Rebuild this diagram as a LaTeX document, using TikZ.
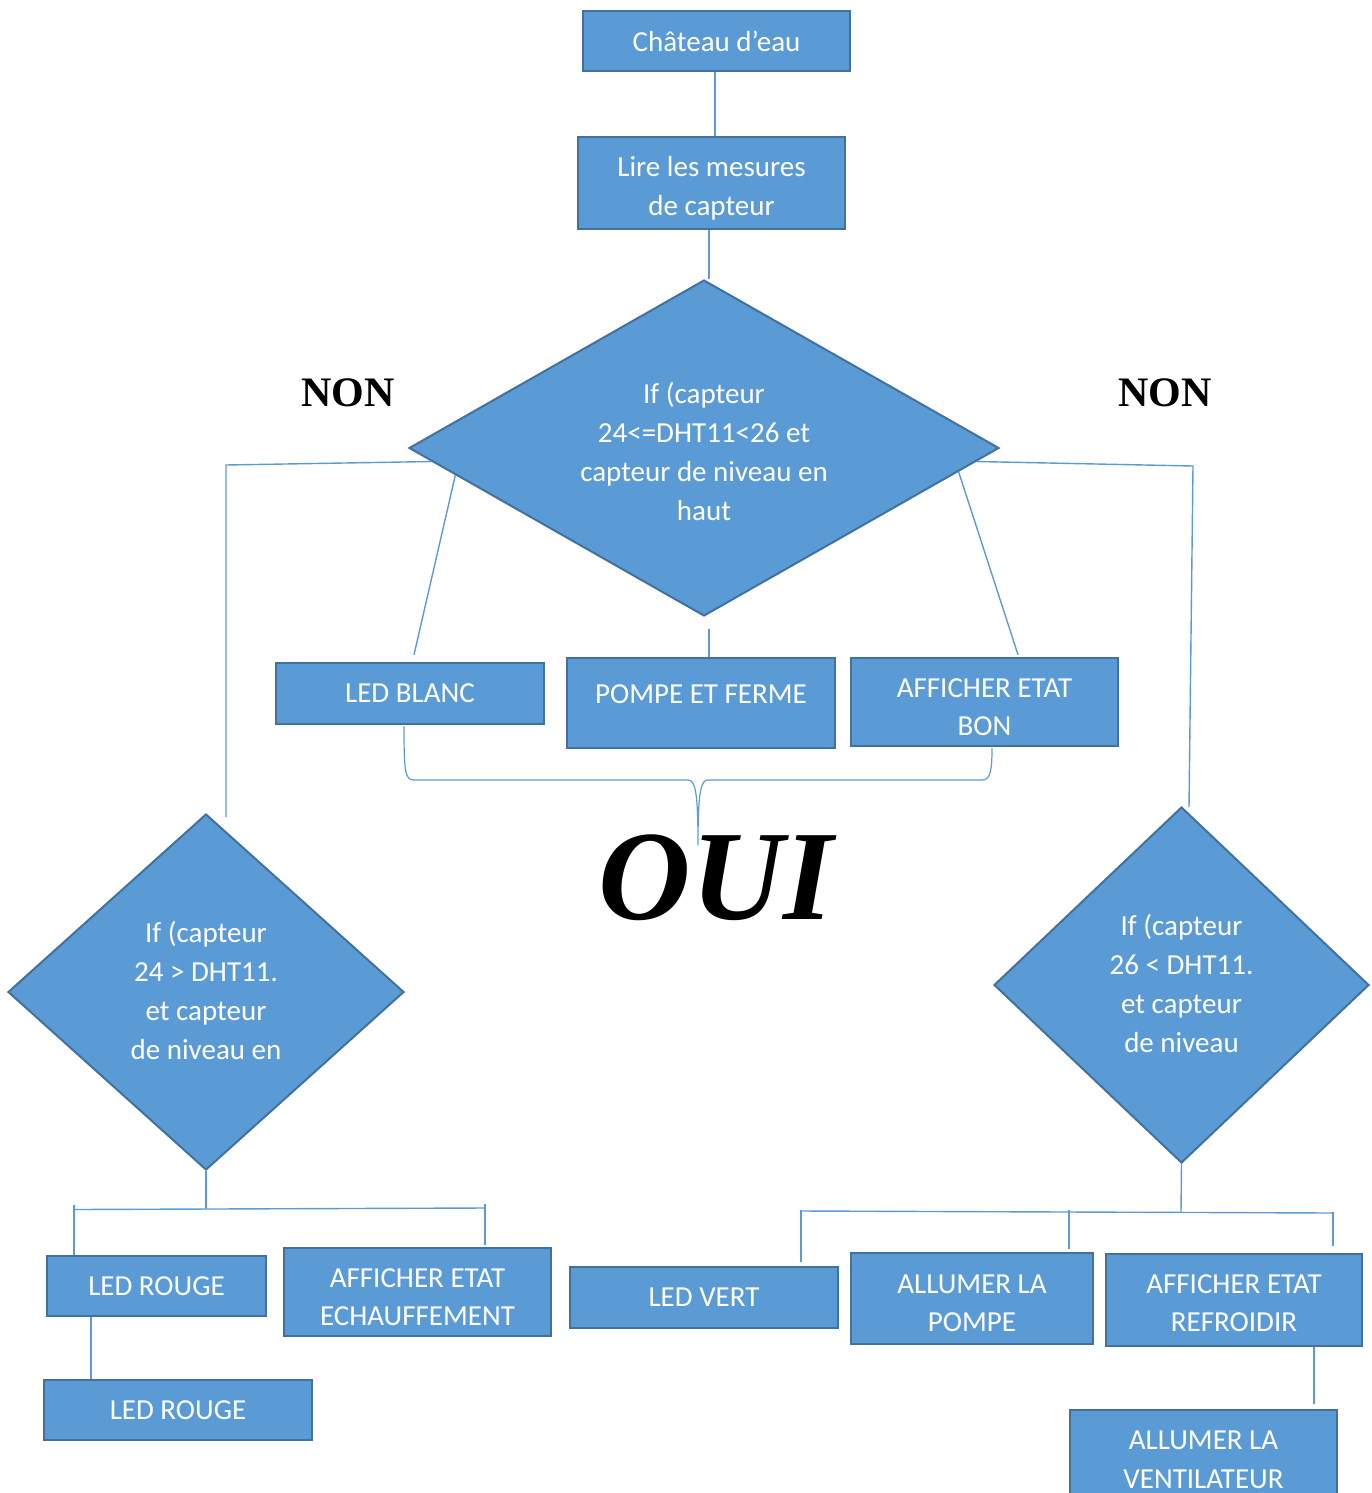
\documentclass[tikz,border=0pt]{standalone}
\usepackage{fontspec}
\setmainfont{Carlito}
\newfontfamily\timesfont{Liberation Serif}
\usetikzlibrary{shapes.geometric,calc}
\definecolor{boxfill}{HTML}{5B9BD5}
\definecolor{boxedge}{HTML}{41719C}
\definecolor{wirecol}{HTML}{5B9BD5}
% stacked centred lines, shifted inside their shape without changing its size
\newcommand\stackedtext[2][-5pt]{\raisebox{#1}[\height][\depth]{\begin{tabular}{@{}c@{}}#2\end{tabular}}}

\begin{document}
\begin{tikzpicture}[x=1pt,y=-1pt,
  stepbox/.style={rectangle, draw=boxedge, line width=2.5pt, fill=boxfill,
    text=white, font=\fontsize{29}{38.5}\selectfont, align=center, inner sep=0pt},
  decision/.style={diamond, draw=boxedge, line width=2pt, fill=boxfill,
    text=white, font=\fontsize{29}{39}\selectfont, align=center, inner sep=0pt},
  wire/.style={draw=wirecol, line width=1.4pt},
  verdict/.style={font=\timesfont\bfseries\fontsize{42}{50}\selectfont},
  bigverdict/.style={font=\timesfont\bfseries\itshape\fontsize{128}{140}\selectfont}]

\useasboundingbox (0,0) rectangle (1371,1493);

% ---- top chain ----
\node[stepbox, minimum width=267, minimum height=60] (chateau) at (716.5,41) {Château d’eau};
\node[stepbox, minimum width=267, minimum height=92] (lire) at (711.5,183) {\stackedtext[-5.5pt]{Lire les mesures\\de capteur}};
\node[decision, minimum width=590, minimum height=336, aspect=1.756] (d1) at (704,448)
  {\stackedtext[-6.5pt]{If (capteur\\24<=DHT11<26 et\\capteur de niveau en\\haut}};

\draw[wire] ($(chateau.south)+(-1.5,0)$) -- ($(chateau.south |- lire.north)+(-1.5,0)$);
\draw[wire] ($(lire.south)+(-2.5,0)$) -- ($(lire.south |- d1.north)+(-2.5,0)$);

% ---- success branch ----
\node[stepbox, minimum width=268, minimum height=61] (blanc) at (410,693.5) {LED BLANC};
\node[stepbox, minimum width=268, minimum height=90] (pompe) at (701,703) {\raisebox{9pt}[\height][\depth]{POMPE ET FERME}};
\node[stepbox, minimum width=267, minimum height=88] (bon) at (984.5,702) {\stackedtext[-7pt]{AFFICHER ETAT\\BON}};

\draw[wire] ($(d1.west)!0.16!(d1.south)$) -- ($(blanc.north)+(4,-7)$);
\draw[wire] ($(d1.south)+(5,12)$) -- ($(pompe.north)+(8,0)$);
\draw[wire] ($(d1.east)!0.14!(d1.south)$) -- ($(bon.north)+(33.5,-2)$);

\coordinate (braceTip) at (698,845);
\draw[wire, line width=1.2pt] ($(blanc.south)+(-6,1)$) .. controls (404,772) and (405,780) .. (414,780)
  -- (688,780) .. controls (695,780) and (698,790) .. (braceTip)
  .. controls (698,790) and (701,780) .. (708,780)
  -- (982,780) .. controls (990,780) and (992,772) .. ($(bon.south)+(7.5,1)$);

\node[bigverdict] (oui) at (716,878) {OUI};

% ---- failure branches ----
\node[verdict] (nonL) at (348,393) {NON};
\node[verdict] (nonR) at (1165,393) {NON};

\node[decision, minimum width=396, minimum height=356, aspect=1.112] (d2) at (206,992)
  {\stackedtext[-1.5pt]{If (capteur\\24 > DHT11.\\et capteur\\de niveau en}};
\node[decision, minimum width=375, minimum height=356, aspect=1.053] (d3) at (1181.5,985)
  {\stackedtext[-1pt]{If (capteur\\26 < DHT11.\\et capteur\\de niveau}};

\coordinate (lcorner) at (226,465);
\coordinate (lend) at (226,817);
\draw[wire] ($(d1.west)!0.08!(d1.south)$) -- (lcorner) -- (lend);
\coordinate (rcorner) at (1193,466);
\coordinate (rend) at (1189,807);
\draw[wire] ($(d1.east)!0.08!(d1.south)$) -- (rcorner) -- (rend);

% ---- left decision outcomes ----
\node[stepbox, minimum width=219, minimum height=60] (rouge1) at (156.5,1286) {LED ROUGE};
\node[stepbox, minimum width=267, minimum height=88] (echauf) at (417.5,1292) {\stackedtext[-7pt]{AFFICHER ETAT\\ECHAUFFEMENT}};
\node[stepbox, minimum width=268, minimum height=60] (rouge2) at (178,1410) {LED ROUGE};

\coordinate (lbar) at (206,1209);
\draw[wire] (d2.south) -- (lbar);
\draw[wire] (74,1209.5) -- (485,1208);
\draw[wire] ($(rouge1.north)+(-82.5,-50)$) -- ($(rouge1.north)+(-82.5,0)$);
\draw[wire] ($(echauf.north)+(67.5,-43)$) -- ($(echauf.north)+(67.5,-2)$);
\draw[wire] ($(rouge1.south)+(-65.5,0)$) -- ($(rouge2.north)+(-87,0)$);

% ---- right decision outcomes ----
\node[stepbox, minimum width=268, minimum height=61] (vert) at (704,1297.5) {LED VERT};
\node[stepbox, minimum width=242, minimum height=91] (pompe2) at (972,1298.5) {\stackedtext[-6.5pt]{ALLUMER LA\\POMPE}};
\node[stepbox, minimum width=256, minimum height=92] (refroid) at (1234,1300) {\stackedtext[-5pt]{AFFICHER ETAT\\REFROIDIR}};
\node[stepbox, minimum width=267, minimum height=94] (ventil) at (1203.5,1457) {\stackedtext[-4.5pt]{ALLUMER LA\\VENTILATEUR}};

\coordinate (rbar) at (1181,1211.5);
\draw[wire] (d3.south) -- (rbar);
\draw[wire] (801,1211) -- (1333,1213);
\draw[wire] ($(vert.north)+(97,-56)$) -- ($(vert.north)+(97,-4)$);
\draw[wire] ($(pompe2.north)+(97,-42)$) -- ($(pompe2.north)+(97,-3)$);
\draw[wire] ($(refroid.north)+(99,-41)$) -- ($(refroid.north)+(99,-7)$);
\draw[wire] ($(refroid.south)+(80,0)$) -- ($(ventil.north)+(110.5,-5)$);

\end{tikzpicture}
\end{document}
